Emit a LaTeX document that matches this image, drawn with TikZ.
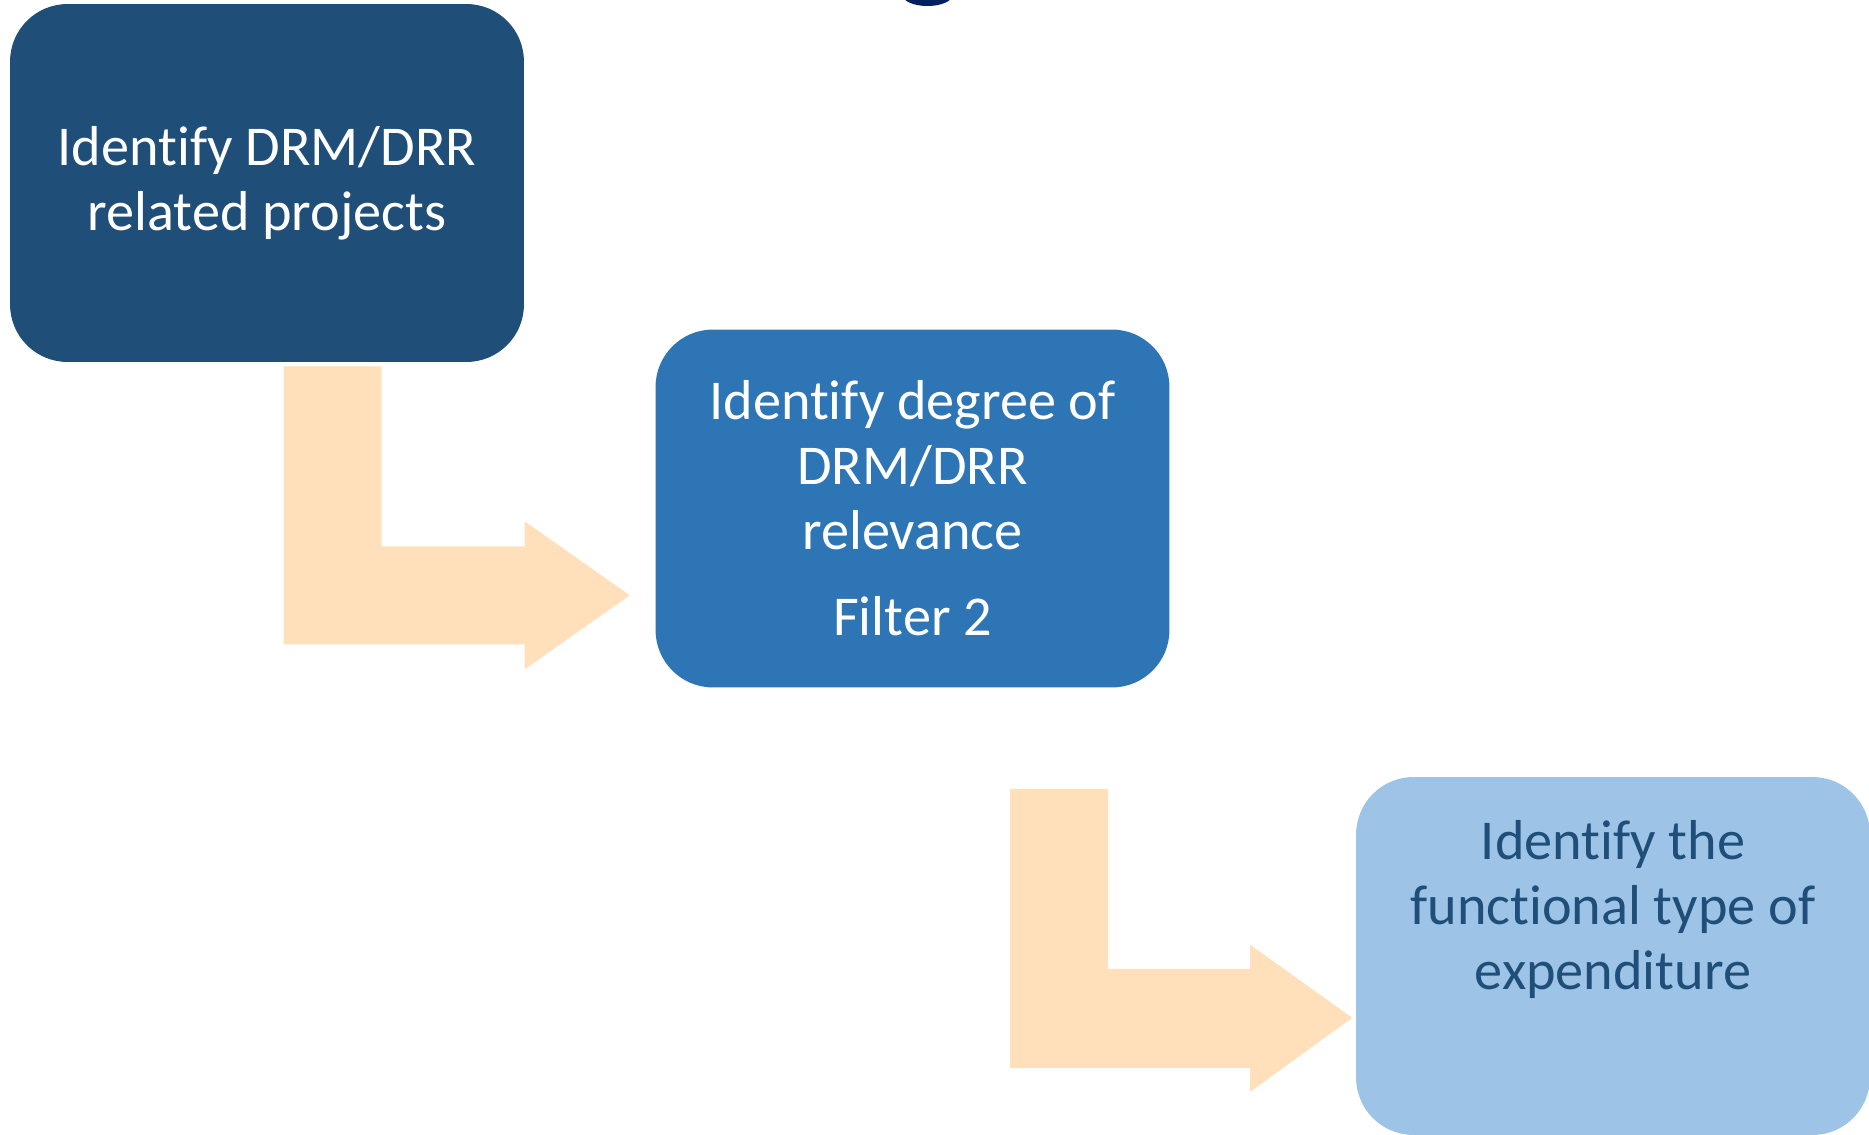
\documentclass[tikz,border=0pt]{standalone}
\usepackage{fontspec}
\setmainfont{Carlito}[Ligatures=NoCommon]
\usetikzlibrary{positioning}
\usetikzlibrary{calc}
\definecolor{darkblue}{RGB}{31,78,121}
\definecolor{midblue}{RGB}{46,117,182}
\definecolor{lightblue}{RGB}{157,195,230}
\definecolor{peach}{RGB}{255,224,187}
\definecolor{navy}{RGB}{0,32,96}

\begin{document}
\begin{tikzpicture}[x=0.02cm, y=-0.02cm,
  stepbox/.style={rectangle, rounded corners=1.15cm, minimum width=10.28cm, minimum height=7.16cm, inner sep=0pt, align=center, font=\fontsize{32}{37}\selectfont},
  steptext/.style={inner sep=0pt, align=center, font=\fontsize{32}{37}\selectfont}
]
\useasboundingbox (0,0) rectangle (1869,1135);

% cut-off shape at the top
\fill[navy] (927.5,-5) ellipse [x radius=0.5cm, y radius=0.22cm];

\node[stepbox, fill=darkblue, text=white] (projects) at (267,183) {Identify DRM/DRR\\related projects};
\node[stepbox, fill=midblue, text=white] (relevance) at (912.5,508.5) {Identify degree of\\DRM/DRR\\relevance\\[12pt]Filter 2};
\node[stepbox, fill=lightblue] (expend) at (1613,956) {};
\node[steptext, text=darkblue] (expendtext) at ($(expend.north)+(0,133)$) {Identify the\\functional type of\\expenditure};

% bent arrows
\fill[peach] ($(projects.south west)+(274,4)$)--++(98,0)--++(0,180)--++(143,0)--++(0,-25)--++(105,74)--++(-105,74)--++(0,-25)--++(-241,0)--cycle;
\fill[peach] ($(relevance.south west)+(355,101)$)--++(98,0)--++(0,180)--++(142,0)--++(0,-24)--++(102,73)--++(-102,74)--++(0,-24)--++(-240,0)--cycle;

\end{tikzpicture}
\end{document}
